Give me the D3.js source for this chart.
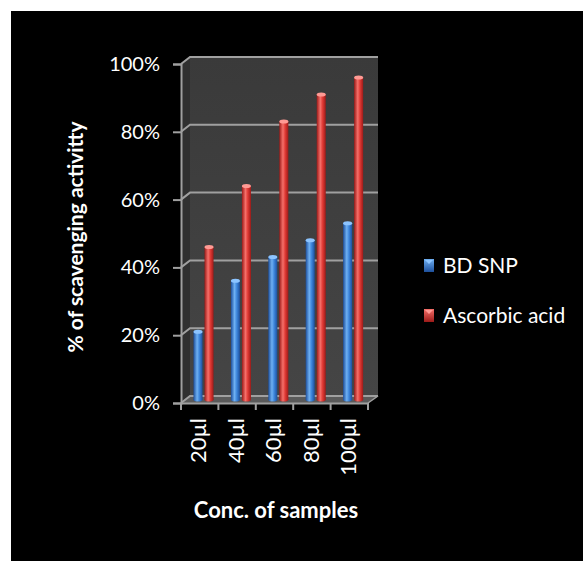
<!DOCTYPE html>
<html>
<head>
<meta charset="utf-8">
<script src="https://cdn.jsdelivr.net/npm/d3@7"></script>
<style>
  html, body { margin: 0; padding: 0; background: #fff; }
  svg { display: block; }
  text { font-family: Lato, "Open Sans", sans-serif; fill: #fff; }
</style>
</head>
<body>
<svg id="chart" width="583" height="561"></svg>
<script>
// Data
const categories = ["20µl", "40µl", "60µl", "80µl", "100µl"];
const seriesNames = ["BD SNP", "Ascorbic acid"];
const bdSnp = [0.20, 0.35, 0.42, 0.47, 0.52];
const ascorbicAcid = [0.45, 0.63, 0.82, 0.90, 0.95];
const yTicks = [0, 0.2, 0.4, 0.6, 0.8, 1.0];

const seriesValues = [bdSnp, ascorbicAcid];
const seriesColors = [
  { dark: "#1d4f9c", mid: "#3d86dc", light: "#6fb0f2", cap: "#8cc4ff" },
  { dark: "#9c1a18", mid: "#e03a35", light: "#f5706a", cap: "#ff9a94" }
];

const svg = d3.select("#chart");
const W = 583, H = 561;

// Background panel
svg.append("rect").attr("x", 11).attr("y", 11).attr("width", W - 11).attr("height", H - 11).attr("fill", "#000");

// Front plane geometry and 3D depth offset
const plotLeft = 181, plotRight = 368, plotTop = 64, plotBottom = 403;
const depthX = 9, depthY = -7;

const y = d3.scaleLinear().domain([0, 1]).range([plotBottom, plotTop]);
const x0 = d3.scaleBand().domain(categories).range([plotLeft, plotRight]).paddingInner(0).paddingOuter(0);
const bw = x0.bandwidth();
const x1 = d3.scaleBand().domain(seriesNames).range([bw * 0.214, bw * 0.75]).paddingInner(0.18).paddingOuter(0);

const defs = svg.append("defs");

// Back wall gradient
const wallGrad = defs.append("linearGradient").attr("id", "wall").attr("x1", 0).attr("y1", 0).attr("x2", 0).attr("y2", 1);
wallGrad.append("stop").attr("offset", "0%").attr("stop-color", "#3a3a3a");
wallGrad.append("stop").attr("offset", "100%").attr("stop-color", "#454545");

// Cylinder gradients
seriesColors.forEach((c, i) => {
  const g = defs.append("linearGradient").attr("id", "cyl" + i).attr("x1", 0).attr("y1", 0).attr("x2", 1).attr("y2", 0);
  g.append("stop").attr("offset", "0%").attr("stop-color", c.dark);
  g.append("stop").attr("offset", "40%").attr("stop-color", c.light);
  g.append("stop").attr("offset", "65%").attr("stop-color", c.mid);
  g.append("stop").attr("offset", "100%").attr("stop-color", c.dark);
  const lg = defs.append("linearGradient").attr("id", "leg" + i).attr("x1", 0).attr("y1", 0).attr("x2", 0).attr("y2", 1);
  lg.append("stop").attr("offset", "0%").attr("stop-color", c.light);
  lg.append("stop").attr("offset", "100%").attr("stop-color", c.dark);
});

const yBack = v => y(v) + depthY;
const pts = a => a.map(p => p.join(",")).join(" ");

// Back wall
svg.append("polygon")
  .attr("points", pts([[plotLeft + depthX, yBack(1)], [plotRight + depthX + 1, yBack(1)], [plotRight + depthX + 1, yBack(0)], [plotLeft + depthX, yBack(0)]]))
  .attr("fill", "url(#wall)");

// Side wall
svg.append("polygon")
  .attr("points", pts([[plotLeft, y(1)], [plotLeft + depthX, yBack(1)], [plotLeft + depthX, yBack(0)], [plotLeft, y(0)]]))
  .attr("fill", "#303030");

// Floor
svg.append("polygon")
  .attr("points", pts([[plotLeft, y(0)], [plotLeft + depthX, yBack(0)], [plotRight + depthX + 1, yBack(0)], [plotRight, y(0)]]))
  .attr("fill", "#5a5a5a");

// Gridlines along side wall and back wall
const grid = svg.append("g").attr("stroke", "#a0a0a0").attr("stroke-width", 2).attr("fill", "none");
yTicks.forEach(t => {
  grid.append("polyline")
    .attr("points", pts([[plotLeft, y(t)], [plotLeft + depthX, yBack(t)], [plotRight + depthX + 1, yBack(t)]]));
});

// Floor right edge
svg.append("line")
  .attr("x1", plotRight).attr("y1", y(0)).attr("x2", plotRight + depthX + 1).attr("y2", yBack(0))
  .attr("stroke", "#a0a0a0").attr("stroke-width", 1.5);

// Bars as cylinders, placed at mid depth
const midX = depthX / 2, midY = depthY / 2;
const bars = svg.append("g");
seriesValues.forEach((vals, si) => {
  vals.forEach((v, ci) => {
    const bx = x0(categories[ci]) + x1(seriesNames[si]) + midX;
    const w = x1.bandwidth();
    const yt = y(v) + midY, yb = y(0) + midY;
    bars.append("rect")
      .attr("x", bx).attr("y", yt).attr("width", w).attr("height", yb - yt)
      .attr("fill", "url(#cyl" + si + ")");
    bars.append("ellipse")
      .attr("cx", bx + w / 2).attr("cy", yb).attr("rx", w / 2).attr("ry", 2)
      .attr("fill", "url(#cyl" + si + ")");
    bars.append("ellipse")
      .attr("cx", bx + w / 2).attr("cy", yt).attr("rx", w / 2).attr("ry", 2)
      .attr("fill", seriesColors[si].cap);
  });
});

// Y axis
const yAxis = d3.axisLeft(y).tickValues(yTicks).tickFormat(d3.format(".0%")).tickSize(8).tickPadding(13);
const yg = svg.append("g").attr("transform", `translate(${plotLeft},0)`).call(yAxis);
yg.select(".domain").attr("stroke", "#a0a0a0").attr("stroke-width", 2);
yg.selectAll(".tick line").attr("stroke", "#a0a0a0").attr("stroke-width", 2);
yg.selectAll(".tick text").attr("fill", "#fff").style("font-size", "20px").style("font-family", "Lato, sans-serif");

// X axis
const xAxis = d3.axisBottom(x0).tickSizeInner(0).tickSizeOuter(0).tickFormat("");
const xg = svg.append("g").attr("transform", `translate(0,${plotBottom})`).call(xAxis);
xg.select(".domain").attr("stroke", "#a0a0a0").attr("stroke-width", 2);
const bounds = categories.map(c => x0(c)).concat([plotRight]);
xg.selectAll(".bound").data(bounds).join("line")
  .attr("x1", d => d).attr("x2", d => d).attr("y1", 0).attr("y2", 7)
  .attr("stroke", "#a0a0a0").attr("stroke-width", 2);
xg.selectAll(".cat").data(categories).join("text")
  .attr("transform", d => `translate(${x0(d) + bw / 2 - 1},${15}) rotate(-90)`)
  .attr("text-anchor", "end").attr("dy", "0.35em")
  .style("font-size", "22px")
  .text(d => d);

// Axis titles
svg.append("text")
  .attr("transform", "translate(83,237) rotate(-90)")
  .attr("text-anchor", "middle")
  .style("font-size", "21px").style("font-weight", "bold")
  .text("% of scavenging activitty");

svg.append("text")
  .attr("x", 276).attr("y", 518)
  .attr("text-anchor", "middle")
  .style("font-size", "22px").style("font-weight", "bold")
  .text("Conc. of samples");

// Legend
const legend = svg.append("g");
seriesNames.forEach((name, i) => {
  const ly = 259 + i * 50;
  legend.append("rect").attr("x", 424).attr("y", ly).attr("width", 10).attr("height", 13)
    .attr("fill", "url(#leg" + i + ")");
  legend.append("path")
    .attr("d", `M425,${ly + 1}L433,${ly + 1}L429,${ly + 5}Z`)
    .attr("fill", seriesColors[i].cap);
  legend.append("text").attr("x", 443).attr("y", ly + 14)
    .style("font-size", "21px")
    .text(name);
});
</script>
</body>
</html>
